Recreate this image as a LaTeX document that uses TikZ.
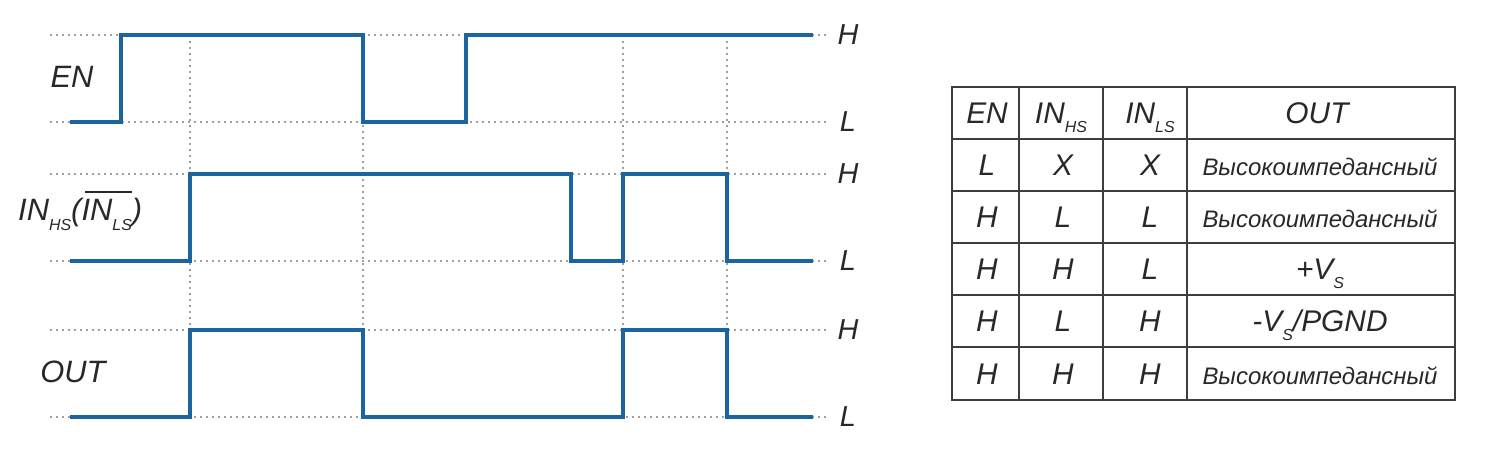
\documentclass[tikz,border=0pt]{standalone}
\usepackage{fontspec}
\setmainfont{Liberation Sans}
\usetikzlibrary{positioning}
\definecolor{signalblue}{RGB}{26,100,160}
\definecolor{inkgray}{RGB}{40,40,40}
\newcommand{\lowidx}[1]{\raisebox{-0.3em}{\fontsize{16}{16}\selectfont #1}}
\newcommand{\overbar}[1]{\setbox0\hbox{#1}\rlap{\hspace{0.12em}\raisebox{0.92em}{\rule{\dimexpr\wd0-0.12em\relax}{0.065em}}}\box0}
\newcommand{\hiz}{{\fontsize{24}{24}\selectfont Высокоимпедансный}}
\tikzstyle{gridline} = [gray!75, line width=1.6bp, dash pattern=on 1.8bp off 4.2bp]
\tikzstyle{signal} = [signalblue, line width=4bp, line join=miter]
\tikzstyle{signalname} = [text=inkgray, font=\fontsize{31}{31}\selectfont\itshape, inner sep=0pt]
\tikzstyle{levellabel} = [text=inkgray, font=\fontsize{29}{29}\selectfont\itshape, inner sep=0pt]
\tikzstyle{cell} = [text=inkgray, font=\fontsize{30}{30}\selectfont\itshape, inner sep=0pt, anchor=base]
\tikzstyle{tableline} = [inkgray!90, line width=1.8bp]

\begin{document}
\begin{tikzpicture}[x=1bp, y=-1bp]
		\useasboundingbox (0,0) rectangle (1497,450);
		\foreach \y in {35,122,174,261,330,417}
			\draw [gridline] (50,\y) -- (830,\y);
		\foreach \x in {190,363,623,727}
			\draw [gridline] (\x,35) -- (\x,417);
		\draw [signal] (70,122) -- (121,122) -- (121,35) -- (363,35) -- (363,122) -- (466,122) -- (466,35) -- (813,35);
		\draw [signal] (70,261) -- (190,261) -- (190,174) -- (571,174) -- (571,261) -- (623,261) -- (623,174) -- (727,174) -- (727,261) -- (813,261);
		\draw [signal] (70,417) -- (190,417) -- (190,330) -- (363,330) -- (363,417) -- (623,417) -- (623,330) -- (727,330) -- (727,417) -- (813,417);
		\node (en) [signalname] at (72,77) {EN};
		\node (inhs) [signalname, anchor=base west] at (18,221) {IN\lowidx{HS}(\overbar{IN\lowidx{LS}})};
		\node (out) [signalname] at (73,372) {OUT};
		\node (enH) [levellabel] at (848,35) {H};
		\node (enL) [levellabel] at (848,122) {L};
		\node (inH) [levellabel] at (848,174) {H};
		\node (inL) [levellabel] at (848,261) {L};
		\node (outH) [levellabel] at (848,330) {H};
		\node (outL) [levellabel] at (848,417) {L};
		\draw [tableline] (952,87) rectangle (1455,400);
		\foreach \x in {1019,1103,1187}
			\draw [tableline] (\x,87) -- (\x,400);
		\foreach \y in {139,191,243,295,347}
			\draw [tableline] (952,\y) -- (1455,\y);
		\node (headEN) [cell] at (987,124) {EN};
		\node (headHS) [cell] at (1061,124) {IN\lowidx{HS}};
		\node (headLS) [cell] at (1150,124) {IN\lowidx{LS}};
		\node (headOUT) [cell] at (1317,124) {OUT};
		\foreach \en/\hs/\ls/\res [count=\r] in {L/X/X/{\hiz}, H/L/L/{\hiz}, H/H/L/{+V\lowidx{S}}, H/L/H/{-V\lowidx{S}/PGND}, H/H/H/{\hiz}} {
			\node (en\r) [cell] at (987,124+52*\r) {\en};
			\node (hs\r) [cell] at (1063,124+52*\r) {\hs};
			\node (ls\r) [cell] at (1150,124+52*\r) {\ls};
			\node (res\r) [cell] at (1320,124+52*\r) {\res};
		}
	\end{tikzpicture}
\end{document}
